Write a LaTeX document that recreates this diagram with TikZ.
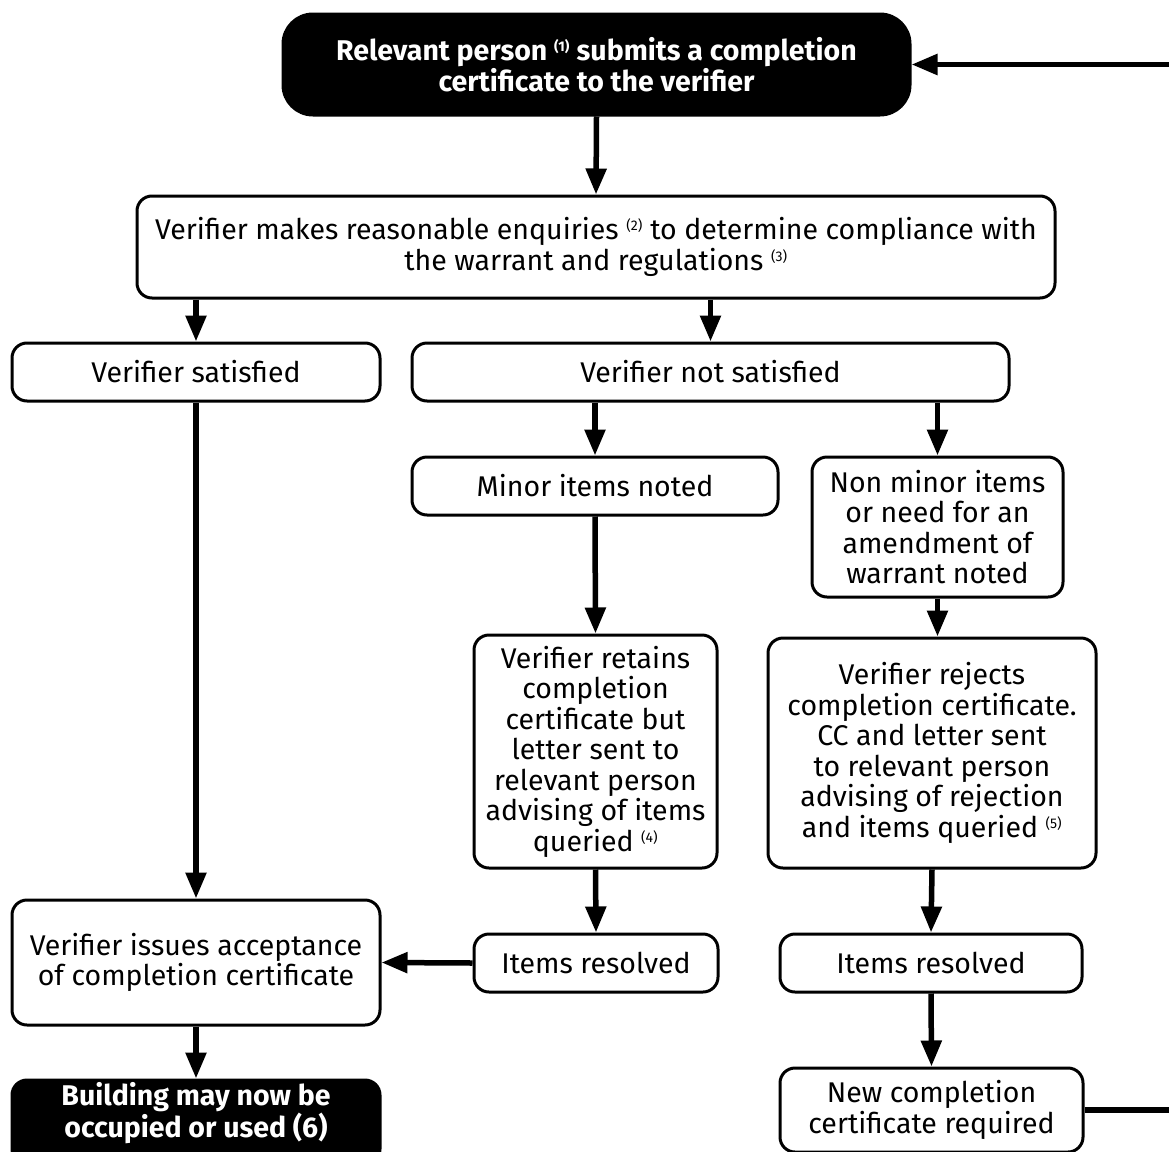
\documentclass[tikz,border=0pt]{standalone}
\usepackage{fontspec}
\setmainfont{Fira Sans}
\usetikzlibrary{arrows.meta}
\newcommand\fnref[1]{\textsuperscript{\fontsize{14}{14}\selectfont(#1)}}
\begin{document}
\begin{tikzpicture}[x=1pt,y=-1pt,
  box/.style={draw=black, line width=3pt, rounded corners=15pt, fill=white, align=center,
    inner sep=0pt, font=\fontsize{28.5}{30.5}\selectfont},
  dark/.style={box, fill=black, text=white, font=\fontsize{28.5}{30.5}\selectfont\bfseries},
  arr/.style={line width=5.5pt, -{Triangle[length=26pt,width=20pt]}},
]
\clip (0,0) rectangle (1169,1151);
\fill[white] (0,0) rectangle (1169,1151);

\node[dark, rounded corners=30pt, minimum width=627pt, minimum height=101pt] (top) at (596.5,64.5)
  {Relevant person \fnref{1} submits a completion\\certificate to the verifier};
\node[box, minimum width=918pt, minimum height=102pt] (enq) at (596,247)
  {Verifier makes reasonable enquiries \fnref{2} to determine compliance with\\the warrant and regulations \fnref{3}};
\node[box, minimum width=368pt, minimum height=58pt] (sat) at (196,372) {Verifier satisfied};
\node[box, minimum width=597pt, minimum height=58pt] (nsat) at (710.5,372) {Verifier not satisfied};
\node[box, minimum width=366pt, minimum height=58pt] (minor) at (595,486) {Minor items noted};
\node[box, minimum width=251pt, minimum height=140pt] (nonminor) at (937.5,527)
  {Non minor items\\or need for an\\amendment of\\warrant noted};
\node[box, minimum width=243pt, minimum height=233pt] (retains) at (595.5,751.5)
  {Verifier retains\\completion\\certificate but\\letter sent to\\relevant person\\advising of items\\queried \fnref{4}};
\node[box, minimum width=328pt, minimum height=230pt] (rejects) at (932,753)
  {Verifier rejects\\completion certificate.\\CC and letter sent\\to relevant person\\advising of rejection\\and items queried \fnref{5}};
\node[box, minimum width=368pt, minimum height=125pt] (issues) at (196,962.5)
  {Verifier issues acceptance\\of completion certificate};
\node[box, minimum width=244pt, minimum height=58pt] (res1) at (596,963) {Items resolved};
\node[box, minimum width=302pt, minimum height=58pt] (res2) at (931,963) {Items resolved};
\node[box, minimum width=303pt, minimum height=84pt] (newcc) at (931.5,1110)
  {New completion\\certificate required};
\node[dark, minimum width=368pt, minimum height=84pt,
  label={[text=white, align=center, inner sep=0pt, yshift=9pt,
    font=\fontsize{28.5}{30.5}\selectfont\bfseries]center:Building may now be\\occupied or used (6)}]
  (bldg) at (196,1122) {};

\coordinate (c1) at (1190,1110);
\coordinate (c2) at (1190,64.5);

\draw[arr] (top.south) -- (enq.north);
\draw[arr] (sat.north |- enq.south) -- (sat.north);
\draw[arr] (nsat.north |- enq.south) -- (nsat.north);
\draw[arr] (minor.north |- nsat.south) -- (minor.north);
\draw[arr] (nonminor.north |- nsat.south) -- (nonminor.north);
\draw[arr] (minor.south) -- (retains.north);
\draw[arr] (nonminor.south) -- (nonminor.south |- rejects.north);
\draw[arr] (sat.south) -- (issues.north);
\draw[arr] (retains.south) -- (res1.north);
\draw[arr] (rejects.south) -- (res2.north);
\draw[arr] (res1.west) -- (issues.east);
\draw[arr] (res2.south) -- (newcc.north);
\draw[arr] (issues.south) -- (bldg.north);
\draw[arr] (newcc.east) -- (c1) -- (c2) -- (top.east);
\end{tikzpicture}
\end{document}
